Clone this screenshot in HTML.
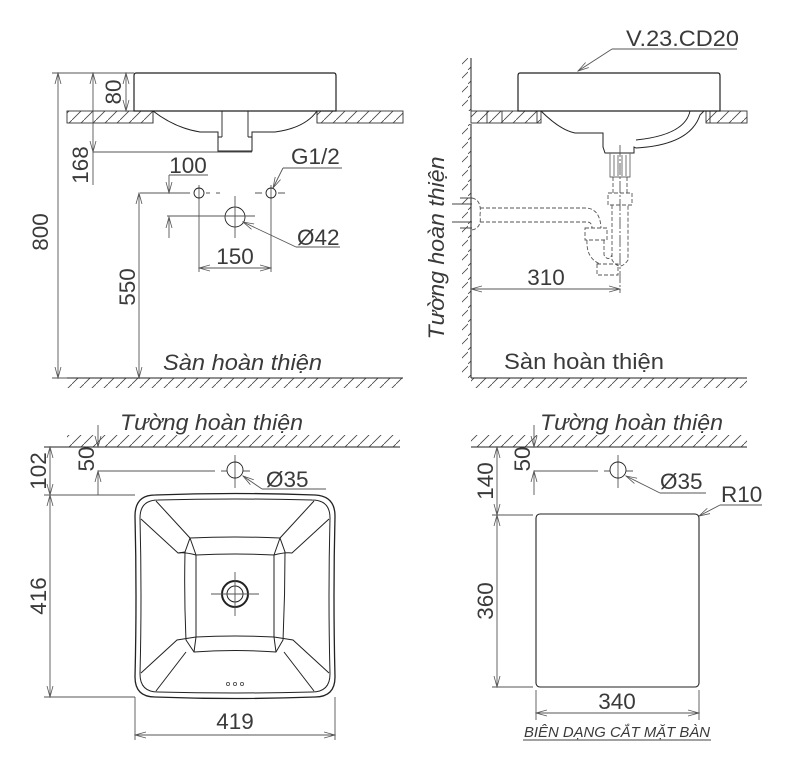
<!DOCTYPE html>
<html><head><meta charset="utf-8"><style>
html,body{margin:0;padding:0;background:#fff;}
svg{display:block;}
text{font-family:"Liberation Sans",sans-serif;fill:#3a3a3a;}
.it{font-style:italic;}
</style></head><body>
<svg width="789" height="777" viewBox="0 0 789 777" xmlns="http://www.w3.org/2000/svg">
<defs>
<marker id="a" markerWidth="12" markerHeight="8" refX="11" refY="4" orient="auto-start-reverse" markerUnits="userSpaceOnUse">
<path d="M0,1 L11,4 L0,7" fill="none" stroke="#555" stroke-width="0.8"/></marker>
<pattern id="h" width="12" height="12" patternUnits="userSpaceOnUse">
<path d="M0,12 L12,0" stroke="#444" stroke-width="0.8"/></pattern>
<pattern id="hv" width="12" height="14" patternUnits="userSpaceOnUse">
<path d="M0,14 L12,2" stroke="#444" stroke-width="0.8"/></pattern>
</defs>
<g stroke="#555" stroke-width="0.9" fill="none">
<!-- ===== TOP LEFT ===== -->
<rect x="67" y="111" width="86" height="12" fill="url(#h)" stroke="#333"/>
<rect x="317" y="111" width="86" height="12" fill="url(#h)" stroke="#333"/>
<path d="M153,111 V123 M317,111 V123" stroke="#333"/>
<path d="M136,73 H334 Q336,73 336,76 V111 H134 V76 Q134,73 136,73Z" stroke="#222" stroke-width="1.2"/>
<path d="M153,111 Q175,128 200,132 H218 V151 H252 V132 H275 Q305,128 317,111" stroke="#222" stroke-width="1"/>
<path d="M222,111 V137 M248,111 V137 M218,137 H222 M248,137 H252" stroke="#222"/>
<path d="M52,73 H134 M52,378 H67" />
<line x1="58" y1="73" x2="58" y2="378" marker-start="url(#a)" marker-end="url(#a)"/>
<line x1="126" y1="73" x2="126" y2="111" marker-start="url(#a)" marker-end="url(#a)"/>
<line x1="93" y1="73" x2="93" y2="152" marker-start="url(#a)" marker-end="url(#a)"/>
<path d="M93,152 H252 M93,152 V185"/>
<path d="M140,193 H190 M206,193 H210 M216,193 H220 M255,193 H262 M278,193 H285 M199,185 V201 M271,185 V201 M199,201 V272 M271,201 V272"/>
<circle cx="199" cy="193" r="5" stroke="#222"/><circle cx="271" cy="193" r="5" stroke="#222"/>
<circle cx="235" cy="217" r="10" stroke="#222"/>
<path d="M167,216 H255 M235,196 V238"/>
<path d="M169,175 H208"/><line x1="169" y1="175" x2="169" y2="193" marker-end="url(#a)"/>
<line x1="169" y1="238" x2="169" y2="217" marker-end="url(#a)"/>
<line x1="139" y1="193" x2="139" y2="378" marker-start="url(#a)" marker-end="url(#a)"/>
<line x1="199" y1="268" x2="271" y2="268" marker-start="url(#a)" marker-end="url(#a)"/>
<path d="M342,168 H283"/><line x1="283" y1="168" x2="273" y2="188" marker-end="url(#a)"/>
<path d="M340,247 H296"/><line x1="296" y1="247" x2="243" y2="222" marker-end="url(#a)"/>
<rect x="67" y="378" width="336" height="10" fill="url(#h)" stroke="none"/>
<path d="M67,378 H403" stroke="#222" stroke-width="1"/>

<!-- ===== TOP RIGHT ===== -->
<rect x="462" y="58" width="9" height="53" fill="url(#hv)" stroke="none"/>
<rect x="462" y="124" width="9" height="254" fill="url(#hv)" stroke="none"/>
<path d="M471,58 V111 M471,124 V378" stroke="#222" stroke-width="1"/>
<rect x="471" y="111" width="70" height="12" fill="url(#h)" stroke="#333"/>
<rect x="706" y="111" width="41" height="12" fill="url(#h)" stroke="#333"/>
<path d="M487,111 V123 M502,111 V123 M537,111 V123 M710,111 V123" stroke="#333"/>
<path d="M520,73 H718 Q720,73 720,76 V111 H518 V76 Q518,73 520,73Z" stroke="#222" stroke-width="1.2"/>
<path d="M541,111 Q560,130 575,133 H603 V147 L605,153 H634 V147 L636,148 Q690,145 700,115 L704,111" stroke="#222" stroke-width="1"/>
<path d="M690,111 Q685,135 636,140" stroke="#222"/>
<path d="M610,153 V177 H630 V153 M614,155 V176 M618,155 V176 M622,155 V176 M626,155 V176" stroke="#666"/>
<g stroke-dasharray="4,2" stroke="#555">
<path d="M613,177 V193 M627,177 V193 M608,193 H632 V205 H608Z M612,205 V260 Q620,272 628,260 V205"/>
<path d="M604,240 V255 Q608,262 612,255 M480,208 H585 Q600,208 601,228 M480,222 H587 Q592,222 592,228"/>
<path d="M585,228 H607 V240 H585Z M587,240 Q586,258 600,264 M597,264 H618 V275 H597Z"/>
<path d="M472,198 Q482,200 480,215 Q482,228 472,230"/>
</g>
<path d="M452,204 H472 M452,222 H472 M460,198 H472 M460,228 H472" stroke="#444"/>
<path d="M620,145 V293" stroke-dasharray="12,2,2,2"/>
<line x1="471" y1="289" x2="620" y2="289" marker-start="url(#a)" marker-end="url(#a)"/>
<path d="M737,49 H612"/><line x1="612" y1="49" x2="578" y2="71" marker-end="url(#a)"/>
<rect x="471" y="378" width="276" height="10" fill="url(#h)" stroke="none"/>
<path d="M471,378 H747" stroke="#222" stroke-width="1"/>

<!-- ===== BOTTOM LEFT ===== -->
<rect x="67" y="435" width="333" height="12" fill="url(#h)" stroke="none"/>
<path d="M44,447 H400" stroke="#222" stroke-width="1"/>
<path d="M44,495 H135"/>
<line x1="50" y1="447" x2="50" y2="495" marker-start="url(#a)" marker-end="url(#a)"/>
<line x1="98" y1="425" x2="98" y2="447" marker-end="url(#a)"/>
<line x1="98" y1="495" x2="98" y2="471" marker-end="url(#a)"/>
<path d="M98,471 H215 M221,471 H227 M243,471 H250 M235,455 V488"/>
<circle cx="235" cy="470" r="8" stroke="#222"/>
<path d="M326,489 H262"/><line x1="262" y1="489" x2="243" y2="476" marker-end="url(#a)"/>
<path d="M44,697 H135 M135,697 V740 M335,697 V740"/>
<line x1="50" y1="495" x2="50" y2="697" marker-start="url(#a)" marker-end="url(#a)"/>
<line x1="135" y1="735" x2="335" y2="735" marker-start="url(#a)" marker-end="url(#a)"/>
<g stroke="#222" stroke-width="1">
<path d="M155,495 Q235,492 315,495 Q335,496 335,516 Q333,596 335,677 Q335,697 315,697 Q235,700 155,697 Q135,697 135,677 Q137,596 135,516 Q135,495 155,495Z" stroke-width="1.3"/>
<path d="M158,500 Q235,498 312,500 Q330,500 330,518 Q328,596 330,674 Q330,692 312,692 Q235,694 158,692 Q140,692 140,674 Q142,596 140,518 Q140,500 158,500Z"/>
<path d="M190,538 Q235,536 280,538 L285,552 Q285,596 283,640 L276,652 Q235,649 194,652 L186,640 Q184,596 185,552Z"/>
<path d="M196,555 Q235,553 274,555 M196,555 V637 M274,555 V637 M196,637 Q235,635 274,637"/>
<path d="M156,501 L190,538 M314,501 L280,538 M141,519 L178,553 Q185,552 196,555 M329,519 L292,553 Q285,552 274,555"/>
<path d="M141,673 L177,640 L196,637 M329,673 L293,640 L274,637 M156,691 L186,652 M314,691 L284,652"/>
<path d="M178,553 L185,552 M190,538 L196,555 M280,538 L274,555 M194,652 L196,637 M276,652 L274,637"/>
<circle cx="235" cy="594" r="13" stroke-width="2"/><circle cx="235" cy="594" r="8"/>
</g>
<path d="M211,594 H259 M235,572 V616"/>
<circle cx="228" cy="684" r="1.6"/><circle cx="235" cy="684" r="1.6"/><circle cx="242" cy="684" r="1.6"/>

<!-- ===== BOTTOM RIGHT ===== -->
<rect x="471" y="435" width="276" height="12" fill="url(#h)" stroke="none"/>
<path d="M471,447 H747" stroke="#222" stroke-width="1"/>
<line x1="497" y1="447" x2="497" y2="515" marker-start="url(#a)" marker-end="url(#a)"/>
<line x1="497" y1="515" x2="497" y2="687" marker-start="url(#a)" marker-end="url(#a)"/>
<path d="M492,515 H533 M492,687 H533"/>
<line x1="534" y1="425" x2="534" y2="447" marker-end="url(#a)"/>
<line x1="534" y1="495" x2="534" y2="471" marker-end="url(#a)"/>
<path d="M534,471 H598 M604,471 H610 M626,471 H633 M618,455 V488"/>
<circle cx="618" cy="470" r="8" stroke="#222"/>
<path d="M706,493 H660"/><line x1="660" y1="493" x2="626" y2="476" marker-end="url(#a)"/>
<path d="M762,505 H720"/><line x1="720" y1="505" x2="699" y2="516" marker-end="url(#a)"/>
<rect x="536" y="514" width="163" height="173" rx="4" stroke="#222" stroke-width="1.1"/>
<path d="M536,690 V720 M699,690 V720"/>
<line x1="536" y1="713" x2="699" y2="713" marker-start="url(#a)" marker-end="url(#a)"/>
<path d="M523,740 H711" stroke="#444"/>
</g>

<!-- TEXT -->
<g font-size="22.5">
<text x="0" y="0" transform="translate(121,92) rotate(-90)" text-anchor="middle">80</text>
<text x="0" y="0" transform="translate(88,165) rotate(-90)" text-anchor="middle">168</text>
<text x="0" y="0" transform="translate(48,232) rotate(-90)" text-anchor="middle">800</text>
<text x="0" y="0" transform="translate(135,287) rotate(-90)" text-anchor="middle">550</text>
<text x="188" y="173" text-anchor="middle">100</text>
<text x="291" y="164">G1/2</text>
<text x="297" y="245">Ø42</text>
<text x="235" y="264" text-anchor="middle">150</text>
<text x="163" y="370" class="it" textLength="159" lengthAdjust="spacingAndGlyphs">Sàn hoàn thiện</text>

<text x="626" y="46" textLength="113" lengthAdjust="spacingAndGlyphs">V.23.CD20</text>
<text x="0" y="0" transform="translate(444,248) rotate(-90)" text-anchor="middle" class="it" textLength="183" lengthAdjust="spacingAndGlyphs">Tường hoàn thiện</text>
<text x="546" y="285" text-anchor="middle">310</text>
<text x="504" y="369" textLength="160" lengthAdjust="spacingAndGlyphs">Sàn hoàn thiện</text>

<text x="120" y="430" class="it" textLength="183" lengthAdjust="spacingAndGlyphs">Tường hoàn thiện</text>
<text x="0" y="0" transform="translate(46,471) rotate(-90)" text-anchor="middle">102</text>
<text x="0" y="0" transform="translate(94,459) rotate(-90)" text-anchor="middle">50</text>
<text x="266" y="487">Ø35</text>
<text x="0" y="0" transform="translate(46,596) rotate(-90)" text-anchor="middle">416</text>
<text x="235" y="729" text-anchor="middle">419</text>

<text x="540" y="430" class="it" textLength="183" lengthAdjust="spacingAndGlyphs">Tường hoàn thiện</text>
<text x="0" y="0" transform="translate(493,481) rotate(-90)" text-anchor="middle">140</text>
<text x="0" y="0" transform="translate(530,459) rotate(-90)" text-anchor="middle">50</text>
<text x="660" y="489">Ø35</text>
<text x="721" y="502">R10</text>
<text x="0" y="0" transform="translate(493,601) rotate(-90)" text-anchor="middle">360</text>
<text x="617" y="709" text-anchor="middle">340</text>
</g>
<text x="617" y="737" text-anchor="middle" font-size="15" class="it" textLength="186" lengthAdjust="spacingAndGlyphs">BIÊN DẠNG CẮT MẶT BÀN</text>
</svg>
</body></html>
